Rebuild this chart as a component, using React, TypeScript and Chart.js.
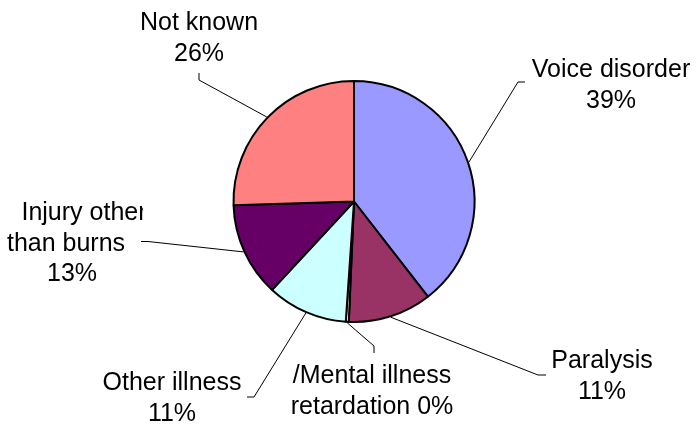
import React, { useEffect, useRef } from "react";
import { Chart, registerables } from "chart.js";

Chart.register(...registerables);

const categories = [
  "Voice disorder",
  "Paralysis",
  "/Mental illness retardation",
  "Other illness",
  "Injury other than burns",
  "Not known",
];
const shares = [39.49, 11.2, 0.4, 10.8, 12.6, 25.51];
const labelLines = [
  ["Voice disorder", "39%"],
  ["Paralysis", "11%"],
  ["/Mental illness", "retardation 0%"],
  ["Other illness", "11%"],
  ["Injury other", "than burns", "13%"],
  ["Not known", "26%"],
];
const sliceColors = ["#9999FF", "#993366", "#FFFFCC", "#CCFFFF", "#660066", "#FF8080"];

// label layout: text centre x per line, first baseline, leader tick start, elbow, clip right
const labelLayout = [
  { cx: [611, 611], y0: 77, tick: [525, 82], elbow: [518, 82] },
  { cx: [602, 602], y0: 368, tick: [546, 375], elbow: [538, 375] },
  { cx: [372, 372], y0: 383, tick: [374, 353], elbow: [374, 346] },
  { cx: [172, 172], y0: 390, tick: [247, 397], elbow: [254, 397] },
  { cx: [84, 66, 72], y0: 220, tick: [141, 241.5], elbow: [148, 241.5], clipRight: 143 },
  { cx: [199, 199], y0: 30, tick: [199, 73], elbow: [199, 80] },
];
const LINE_GAP = 30.5;

const labelPlugin = {
  id: "pieLabels",
  afterDraw(chart: any) {
    const ctx = chart.ctx;
    const meta = chart.getDatasetMeta(0);
    ctx.save();
    meta.data.forEach((arc: any, i: number) => {
      const lay = labelLayout[i];
      const mid = (arc.startAngle + arc.endAngle) / 2;
      const r = arc.outerRadius + 1;
      const ex = arc.x + Math.cos(mid) * r;
      const ey = arc.y + Math.sin(mid) * r;
      ctx.beginPath();
      ctx.strokeStyle = "#000";
      ctx.lineWidth = 1;
      ctx.moveTo(lay.tick[0], lay.tick[1]);
      ctx.lineTo(lay.elbow[0], lay.elbow[1]);
      ctx.lineTo(ex, ey);
      ctx.stroke();

      ctx.save();
      if (lay.clipRight) {
        ctx.beginPath();
        ctx.rect(0, 0, lay.clipRight, chart.height);
        ctx.clip();
      }
      ctx.fillStyle = "#000";
      ctx.font = '25px "Liberation Sans", Arial, sans-serif';
      ctx.textAlign = "center";
      ctx.textBaseline = "alphabetic";
      labelLines[i].forEach((t, k) => {
        ctx.fillText(t, lay.cx[k], lay.y0 + k * LINE_GAP);
      });
      ctx.restore();
    });
    ctx.restore();
  },
};

export default function App() {
  const ref = useRef<HTMLCanvasElement | null>(null);
  useEffect(() => {
    if (!ref.current) return;
    const chart = new Chart(ref.current, {
      type: "pie",
      data: {
        labels: categories,
        datasets: [
          {
            data: shares,
            backgroundColor: sliceColors,
            borderColor: "#000000",
            borderWidth: 2,
          },
        ],
      },
      options: {
        responsive: false,
        animation: false,
        radius: 120.5,
        layout: { padding: { left: 8, right: 0, top: 0, bottom: 24 } },
        plugins: {
          legend: { display: false },
          tooltip: { enabled: false },
        },
      } as any,
      plugins: [labelPlugin],
    });
    return () => chart.destroy();
  }, []);
  return (
    <div style={{ position: "fixed", left: 0, top: 0, width: 700, height: 427, background: "#fff" }}>
      <canvas ref={ref} width={700} height={427} />
    </div>
  );
}
